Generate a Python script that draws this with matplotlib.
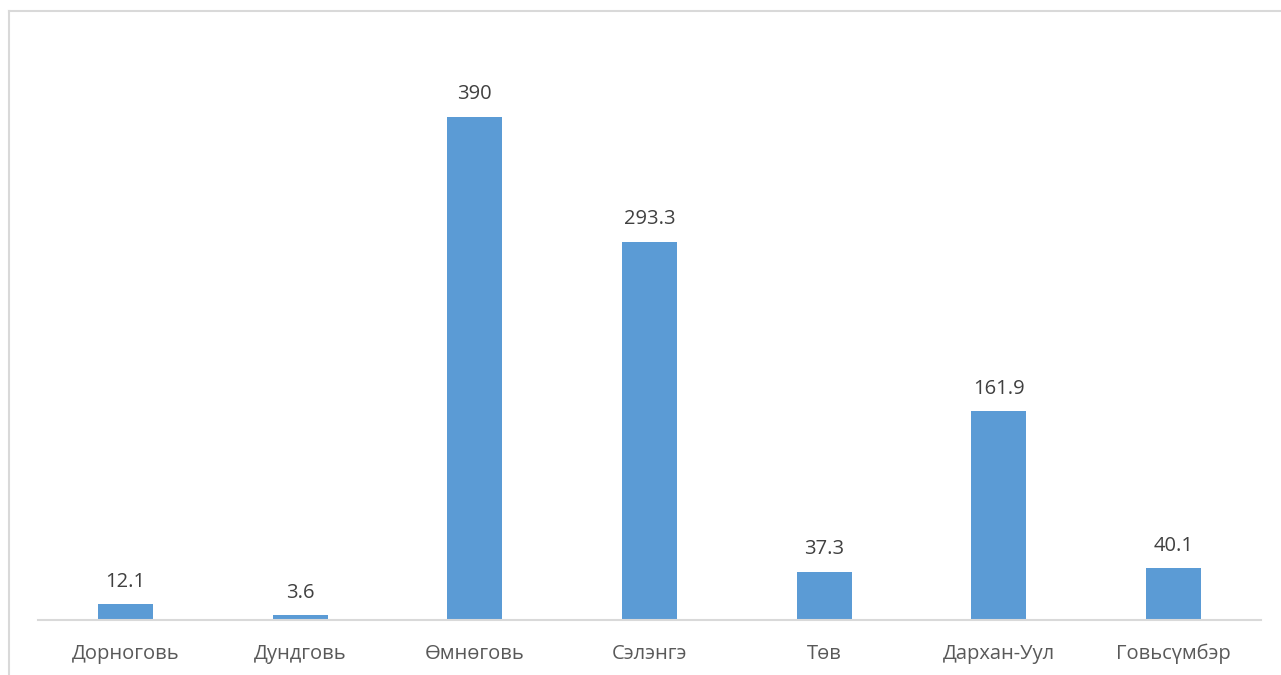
import matplotlib
matplotlib.use("Agg")
import matplotlib.pyplot as plt
from matplotlib.lines import Line2D

categories = ["Дорноговь", "Дундговь", "Өмнөговь", "Сэлэнгэ", "Төв", "Дархан-Уул", "Говьсүмбэр"]
values = [12.1, 3.6, 390, 293.3, 37.3, 161.9, 40.1]
labels = ["12.1", "3.6", "390", "293.3", "37.3", "161.9", "40.1"]

W, H = 1281, 675
fig = plt.figure(figsize=(W / 100, H / 100), dpi=100)
plt.rcParams['font.family'] = ['Open Sans', 'DejaVu Sans']

# chart frame (left and top edges visible)
fig.add_artist(Line2D([9 / W, 9 / W], [0, 1 - 11 / H], transform=fig.transFigure,
                      color="#d9d9d9", lw=1.5))
fig.add_artist(Line2D([9 / W, 1], [1 - 11 / H, 1 - 11 / H], transform=fig.transFigure,
                      color="#d9d9d9", lw=1.5))

ax_top = 40
base = 620
ax = fig.add_axes([38 / W, (H - base) / H, (1261 - 38) / W, (base - ax_top) / H])
px_per_unit = (base - 117) / 390.0
ax.set_ylim(0, (base - ax_top) / px_per_unit)
ax.set_xlim(-0.5, len(categories) - 0.5)

x = list(range(len(categories)))
ax.bar(x, values, width=0.315, color="#5b9bd5")
for xi, v, lab in zip(x, values, labels):
    ax.annotate(lab, (xi, v), xytext=(0, 9), textcoords="offset points",
                ha="center", va="bottom", fontsize=14.5, color="#404040")

for s in ["top", "right", "left"]:
    ax.spines[s].set_visible(False)
ax.spines["bottom"].set_color("#d9d9d9")
ax.spines["bottom"].set_linewidth(1.5)
ax.set_yticks([])
ax.set_xticks(x)
ax.set_xticklabels(categories, fontsize=14.5, color="#595959")
ax.tick_params(axis="x", length=0, pad=17)

fig.savefig("out.png", dpi=100)
